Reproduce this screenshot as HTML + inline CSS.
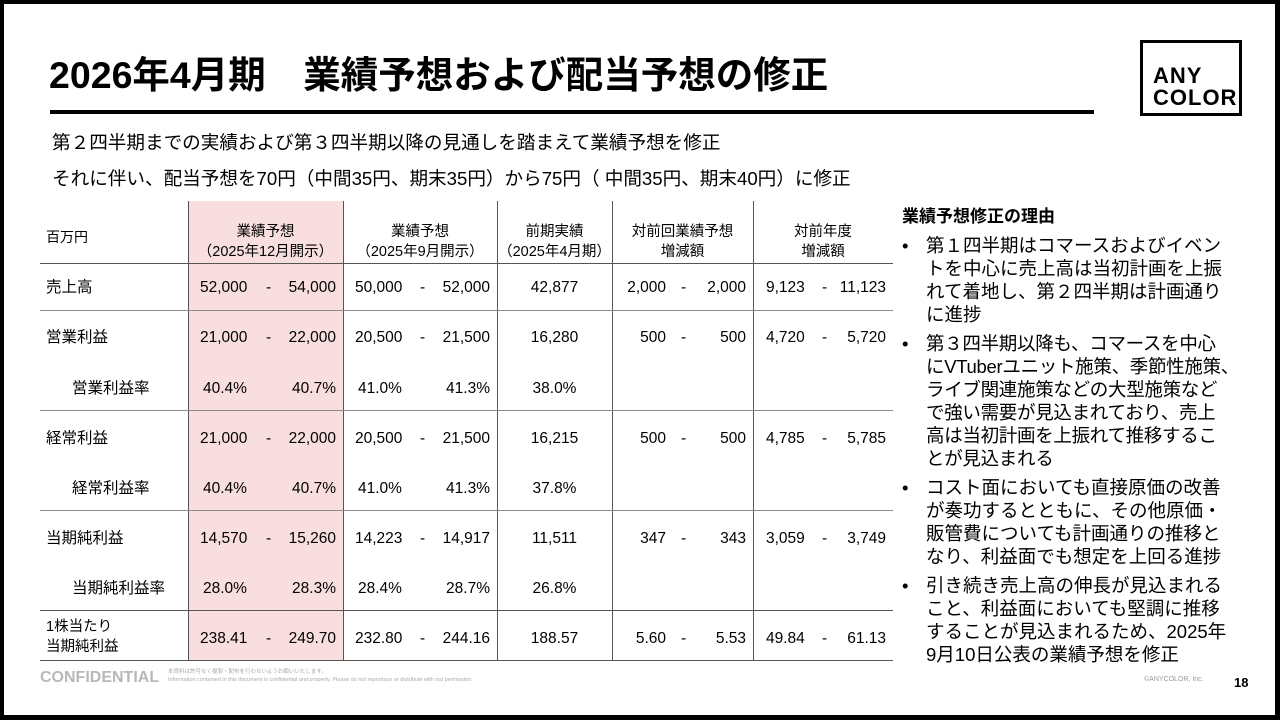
<!DOCTYPE html>
<html><head><meta charset="utf-8">
<style>
*{margin:0;padding:0;box-sizing:border-box}
body{width:1280px;height:720px;background:#000;position:relative;overflow:hidden;font-family:"Liberation Sans","Noto Sans CJK JP",sans-serif;color:#000}
#slide{position:absolute;left:4px;top:4px;width:1271px;height:711px;background:#fff}
.a{position:absolute;white-space:nowrap}
.t{font-size:15.5px;line-height:18px}
.hl{position:absolute;height:1px;background:#8a8a8a}
.vl{position:absolute;width:1px;background:#555}
.c{text-align:center}
.r{text-align:right}
.b{position:relative;padding-left:24px;margin-bottom:6px;white-space:nowrap}
.b span{position:absolute;left:0}
</style></head><body>
<div id="slide">
<div class="a" style="left:45px;top:48px;font-size:37.5px;font-weight:bold;line-height:46px">2026年4月期　業績予想および配当予想の修正</div>
<div class="a" style="left:46px;top:106px;width:1044px;height:4px;background:#000"></div>
<div class="a" style="left:1136px;top:36px;width:102px;height:76px;border:3px solid #000;font-weight:bold;font-size:22px;line-height:22px;padding:22px 0 0 10px;letter-spacing:1px">ANY<br>COLOR</div>
<div class="a" style="left:48px;top:126px;font-size:18.6px;line-height:26px">第２四半期までの実績および第３四半期以降の見通しを踏まえて業績予想を修正</div>
<div class="a" style="left:48px;top:162px;font-size:18.6px;line-height:26px">それに伴い、配当予想を70円（中間35円、期末35円）から75円（ 中間35円、期末40円）に修正</div>

<div>
<div class="a" style="left:184px;top:197px;width:155px;height:459px;background:#f8dede"></div>
<div class="vl" style="left:184px;top:197px;height:459px"></div>
<div class="vl" style="left:339px;top:197px;height:459px"></div>
<div class="vl" style="left:493px;top:197px;height:459px"></div>
<div class="vl" style="left:608px;top:197px;height:459px"></div>
<div class="vl" style="left:749px;top:197px;height:459px"></div>
<div class="hl" style="left:36px;top:259px;width:853px;background:#555"></div>
<div class="hl" style="left:36px;top:306px;width:853px"></div>
<div class="hl" style="left:36px;top:406px;width:853px"></div>
<div class="hl" style="left:36px;top:506px;width:853px"></div>
<div class="hl" style="left:36px;top:606px;width:853px;background:#555"></div>
<div class="hl" style="left:36px;top:656px;width:853px;background:#555"></div>

<div class="a t" style="left:42px;top:224px;font-size:14px">百万円</div>
<div class="a t c" style="left:184px;top:218px;width:155px;font-size:14.5px;line-height:20px">業績予想<br>（2025年12月開示）</div>
<div class="a t c" style="left:339px;top:218px;width:154px;font-size:14.5px;line-height:20px">業績予想<br>（2025年9月開示）</div>
<div class="a t c" style="left:493px;top:218px;width:115px;font-size:14.5px;line-height:20px">前期実績<br>（2025年4月期）</div>
<div class="a t c" style="left:608px;top:218px;width:141px;font-size:14.5px;line-height:20px">対前回業績予想<br>増減額</div>
<div class="a t c" style="left:749px;top:218px;width:140px;font-size:14.5px;line-height:20px">対前年度<br>増減額</div>

<div>
<div class="a t" style="left:42px;top:275px">売上高</div>
<div class="a t" style="left:196px;top:275px">52,000</div><div class="a t" style="left:262px;top:275px">-</div><div class="a t r" style="left:270px;top:275px;width:62px">54,000</div>
<div class="a t" style="left:351px;top:275px">50,000</div><div class="a t" style="left:416px;top:275px">-</div><div class="a t r" style="left:424px;top:275px;width:62px">52,000</div>
<div class="a t c" style="left:493px;top:275px;width:115px">42,877</div>
<div class="a t r" style="left:600px;top:275px;width:62px">2,000</div><div class="a t" style="left:677px;top:275px">-</div><div class="a t r" style="left:680px;top:275px;width:62px">2,000</div>
<div class="a t" style="left:762px;top:275px">9,123</div><div class="a t" style="left:818px;top:275px">-</div><div class="a t r" style="left:820px;top:275px;width:62px">11,123</div>
</div>
<div>
<div class="a t" style="left:42px;top:325px">営業利益</div>
<div class="a t" style="left:196px;top:325px">21,000</div><div class="a t" style="left:262px;top:325px">-</div><div class="a t r" style="left:270px;top:325px;width:62px">22,000</div>
<div class="a t" style="left:351px;top:325px">20,500</div><div class="a t" style="left:416px;top:325px">-</div><div class="a t r" style="left:424px;top:325px;width:62px">21,500</div>
<div class="a t c" style="left:493px;top:325px;width:115px">16,280</div>
<div class="a t r" style="left:600px;top:325px;width:62px">500</div><div class="a t" style="left:677px;top:325px">-</div><div class="a t r" style="left:680px;top:325px;width:62px">500</div>
<div class="a t" style="left:762px;top:325px">4,720</div><div class="a t" style="left:818px;top:325px">-</div><div class="a t r" style="left:820px;top:325px;width:62px">5,720</div>
</div>
<div>
<div class="a t" style="left:68px;top:376px">営業利益率</div>
<div class="a t" style="left:199px;top:376px">40.4%</div><div class="a t r" style="left:270px;top:376px;width:62px">40.7%</div>
<div class="a t" style="left:354px;top:376px">41.0%</div><div class="a t r" style="left:424px;top:376px;width:62px">41.3%</div>
<div class="a t c" style="left:493px;top:376px;width:115px">38.0%</div>
</div>
<div>
<div class="a t" style="left:42px;top:426px">経常利益</div>
<div class="a t" style="left:196px;top:426px">21,000</div><div class="a t" style="left:262px;top:426px">-</div><div class="a t r" style="left:270px;top:426px;width:62px">22,000</div>
<div class="a t" style="left:351px;top:426px">20,500</div><div class="a t" style="left:416px;top:426px">-</div><div class="a t r" style="left:424px;top:426px;width:62px">21,500</div>
<div class="a t c" style="left:493px;top:426px;width:115px">16,215</div>
<div class="a t r" style="left:600px;top:426px;width:62px">500</div><div class="a t" style="left:677px;top:426px">-</div><div class="a t r" style="left:680px;top:426px;width:62px">500</div>
<div class="a t" style="left:762px;top:426px">4,785</div><div class="a t" style="left:818px;top:426px">-</div><div class="a t r" style="left:820px;top:426px;width:62px">5,785</div>
</div>
<div>
<div class="a t" style="left:68px;top:476px">経常利益率</div>
<div class="a t" style="left:199px;top:476px">40.4%</div><div class="a t r" style="left:270px;top:476px;width:62px">40.7%</div>
<div class="a t" style="left:354px;top:476px">41.0%</div><div class="a t r" style="left:424px;top:476px;width:62px">41.3%</div>
<div class="a t c" style="left:493px;top:476px;width:115px">37.8%</div>
</div>
<div>
<div class="a t" style="left:42px;top:526px">当期純利益</div>
<div class="a t" style="left:196px;top:526px">14,570</div><div class="a t" style="left:262px;top:526px">-</div><div class="a t r" style="left:270px;top:526px;width:62px">15,260</div>
<div class="a t" style="left:351px;top:526px">14,223</div><div class="a t" style="left:416px;top:526px">-</div><div class="a t r" style="left:424px;top:526px;width:62px">14,917</div>
<div class="a t c" style="left:493px;top:526px;width:115px">11,511</div>
<div class="a t r" style="left:600px;top:526px;width:62px">347</div><div class="a t" style="left:677px;top:526px">-</div><div class="a t r" style="left:680px;top:526px;width:62px">343</div>
<div class="a t" style="left:762px;top:526px">3,059</div><div class="a t" style="left:818px;top:526px">-</div><div class="a t r" style="left:820px;top:526px;width:62px">3,749</div>
</div>
<div>
<div class="a t" style="left:68px;top:576px">当期純利益率</div>
<div class="a t" style="left:199px;top:576px">28.0%</div><div class="a t r" style="left:270px;top:576px;width:62px">28.3%</div>
<div class="a t" style="left:354px;top:576px">28.4%</div><div class="a t r" style="left:424px;top:576px;width:62px">28.7%</div>
<div class="a t c" style="left:493px;top:576px;width:115px">26.8%</div>
</div>
<div>
<div class="a t" style="left:42px;top:613px;font-size:14.5px;line-height:20px">1株当たり<br>当期純利益</div>
<div class="a t" style="left:196px;top:626px">238.41</div><div class="a t" style="left:262px;top:626px">-</div><div class="a t r" style="left:270px;top:626px;width:62px">249.70</div>
<div class="a t" style="left:351px;top:626px">232.80</div><div class="a t" style="left:416px;top:626px">-</div><div class="a t r" style="left:424px;top:626px;width:62px">244.16</div>
<div class="a t c" style="left:493px;top:626px;width:115px">188.57</div>
<div class="a t r" style="left:600px;top:626px;width:62px">5.60</div><div class="a t" style="left:677px;top:626px">-</div><div class="a t r" style="left:680px;top:626px;width:62px">5.53</div>
<div class="a t" style="left:762px;top:626px">49.84</div><div class="a t" style="left:818px;top:626px">-</div><div class="a t r" style="left:820px;top:626px;width:62px">61.13</div>
</div>
</div>

<div>
<div class="a" style="left:898px;top:201px;font-size:17px;font-weight:bold;line-height:24px">業績予想修正の理由</div>
<div class="a" style="left:898px;top:230px;width:340px;font-size:18.5px;line-height:23px">
<div class="b"><span>•</span>第１四半期はコマースおよびイベン<br>トを中心に売上高は当初計画を上振<br>れて着地し、第２四半期は計画通り<br>に進捗</div>
<div class="b" style="letter-spacing:-0.3px"><span>•</span>第３四半期以降も、コマースを中心<br>にVTuberユニット施策、季節性施策、<br>ライブ関連施策などの大型施策など<br>で強い需要が見込まれており、売上<br>高は当初計画を上振れて推移するこ<br>とが見込まれる</div>
<div class="b"><span>•</span>コスト面においても直接原価の改善<br>が奏功するとともに、その他原価・<br>販管費についても計画通りの推移と<br>なり、利益面でも想定を上回る進捗</div>
<div class="b"><span>•</span>引き続き売上高の伸長が見込まれる<br>こと、利益面においても堅調に推移<br>することが見込まれるため、2025年<br>9月10日公表の業績予想を修正</div>
</div>
</div>

<div class="a" style="left:36px;top:664px;font-size:16px;font-weight:bold;color:#b8b8b8;line-height:20px">CONFIDENTIAL</div>
<div class="a" style="left:164px;top:664px;font-size:5.5px;color:#aaa;line-height:8px">本資料は許可なく複製・配布を行わないようお願いいたします。<br>Information contained in this document is confidential and property. Please do not reproduce or distribute with out permission.</div>
<div class="a" style="left:1140px;top:672px;font-size:7px;color:#999">©ANYCOLOR, Inc.</div>
<div class="a" style="left:1230px;top:671px;font-size:13px;font-weight:bold">18</div>
</div>
</body></html>
